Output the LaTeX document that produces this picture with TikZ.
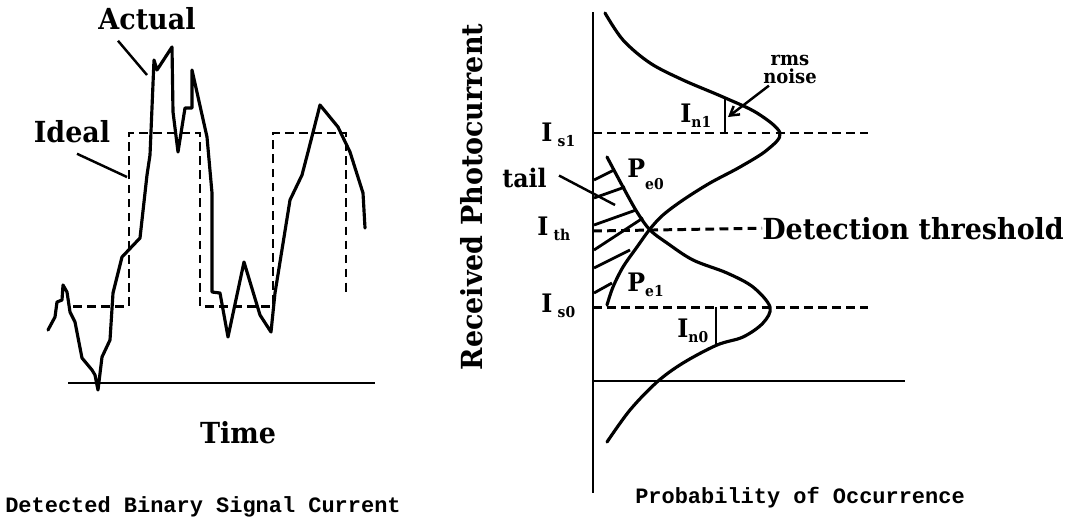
\documentclass[tikz,border=0pt]{standalone}
\usepackage{fontspec}
\newfontfamily\labfont{DejaVu Serif}[FakeStretch=0.93]
\newfontfamily\capfont{Liberation Mono}
\newcommand\lsub[2][-3pt]{\raisebox{#1}{\fontsize{8.5}{9}\selectfont #2}}
\usetikzlibrary{arrows.meta,calc}

\begin{document}
\begin{tikzpicture}[
  x=0.02cm, y=-0.02cm,
  lab/.style={font=\labfont\bfseries\fontsize{16.5}{18}\selectfont, inner sep=0pt},
  sym/.style={font=\labfont\bfseries\fontsize{14.5}{16}\selectfont, inner sep=0pt, anchor=base west},
  captext/.style={font=\capfont\bfseries\fontsize{12.5}{14}\selectfont, inner sep=0pt, anchor=base},
  curve/.style={line width=1.8pt, line join=round, line cap=round},
  axis/.style={line width=1.4pt},
  level/.style={line width=1.7pt, dash pattern=on 5pt off 3pt},
  ptr/.style={line width=1.4pt},
  hatch/.style={line width=1.6pt}
]
\useasboundingbox (0,0) rectangle (1074,518);

%% Left panel: detected binary signal current
\draw[axis] (68,383) -- (375,383);
\draw[level] (73,306) -- (129,306) -- (129,133) -- (200,133) -- (200,306)
  -- (273,306) -- (273,133) -- (346,133) -- (346,295);
\draw[curve] plot coordinates {(48,330) (55,317) (57,302) (62,300) (63,285)
  (67,292) (70,312) (75,322) (82,358) (92,370) (95,375) (98,390) (102,357)
  (110,340) (113,293) (122,257) (140,238) (147,175) (150,155) (154,60)
  (157,70) (172,47) (173,112) (178,152) (185,108) (192,108) (192,70)
  (207,137) (212,193) (212,292) (220,293) (228,337) (244,262) (260,315)
  (271,332) (275,293) (290,200) (302,175) (308,152) (320,105) (338,127)
  (350,152) (363,193) (365,228)};

\node[lab, anchor=base] (actual) at (147,29) {Actual};
\node[lab, anchor=base] (ideal) at (72,142) {Ideal};
\coordinate (actualtip) at (147,75);
\coordinate (idealtip) at (127,177);
\draw[ptr] ($(actual.south)+(-29,11)$) -- (actualtip);
\draw[ptr] ($(ideal.south)+(5,11)$) -- (idealtip);

\node[lab, anchor=base] (time) at (238,443) {Time};
\node[captext] (leftcap) at (203,512) {Detected Binary Signal Current};

%% Right panel: probability of occurrence
\draw[axis] (593,12) -- (593,493);
\draw[axis] (593,381) -- (905,381);
\draw[level] (593,133) -- (868,133);
\draw[level] (593,307) -- (868,307);
\node[lab, anchor=base west] (thr) at (762,239) {Detection threshold};
\draw[level] (593,231) -- (thr.west);

% level 1 and level 0 distributions
\draw[curve] plot[smooth, tension=0.55] coordinates {(605,13) (623,40) (650,63)
  (683,80) (723,97) (757,113) (780,133) (767,150) (740,167) (710,183)
  (683,200) (663,215) (650,229) (637,247) (623,267) (613,287) (607,305)};
\draw[curve] plot[smooth, tension=0.55] coordinates {(607,157) (623,187) (637,212)
  (650,230) (667,243) (693,260) (727,273) (753,287) (770,307) (763,323)
  (743,337) (717,345) (683,363) (657,382) (630,410) (607,442)};

% tails
\foreach \ya/\xb/\yb in {180/614/170, 198/625/187, 225/636/210,
                         250/643/218, 268/630/250, 293/612/283}
  \draw[hatch] (594,\ya) -- (\xb,\yb);

% noise widths
\draw[ptr] (725,99) -- (725,133);
\draw[ptr] (716,307) -- (716,345);

\node[sym] (is1) at (541,141) {I\hspace{3pt}\lsub{s1}};
\node[sym] (ith) at (537,235) {I\hspace{3pt}\lsub{th}};
\node[sym] (is0) at (541,312) {I\hspace{3pt}\lsub{s0}};
\node[sym] (tail) at (502,187) {tail};
\node[sym] (pe0) at (627,177) {P\lsub[-7pt]{e0}};
\node[sym] (pe1) at (627,291) {P\lsub{e1}};
\node[sym] (in1) at (680,122) {I\lsub{n1}};
\node[sym] (in0) at (677,337) {I\lsub{n0}};
\node[font=\labfont\bfseries\fontsize{11}{10}\selectfont, inner sep=0pt,
      align=center, anchor=base] (noise) at (790,83) {rms\\noise};

\coordinate (tailtip) at (615,205);
\coordinate (rmstip) at (728,117);
\draw[ptr] ($(tail.east)+(12,-2)$) -- (tailtip);
\draw[ptr, -{Straight Barb[length=5pt, width=6pt]}] ($(noise.south west)+(6,2)$) -- (rmstip);

\node[lab, rotate=90] (ylab) at (472,197) {Received Photocurrent};
\node[captext] (rightcap) at (800,503) {Probability of Occurrence};

\end{tikzpicture}
\end{document}
